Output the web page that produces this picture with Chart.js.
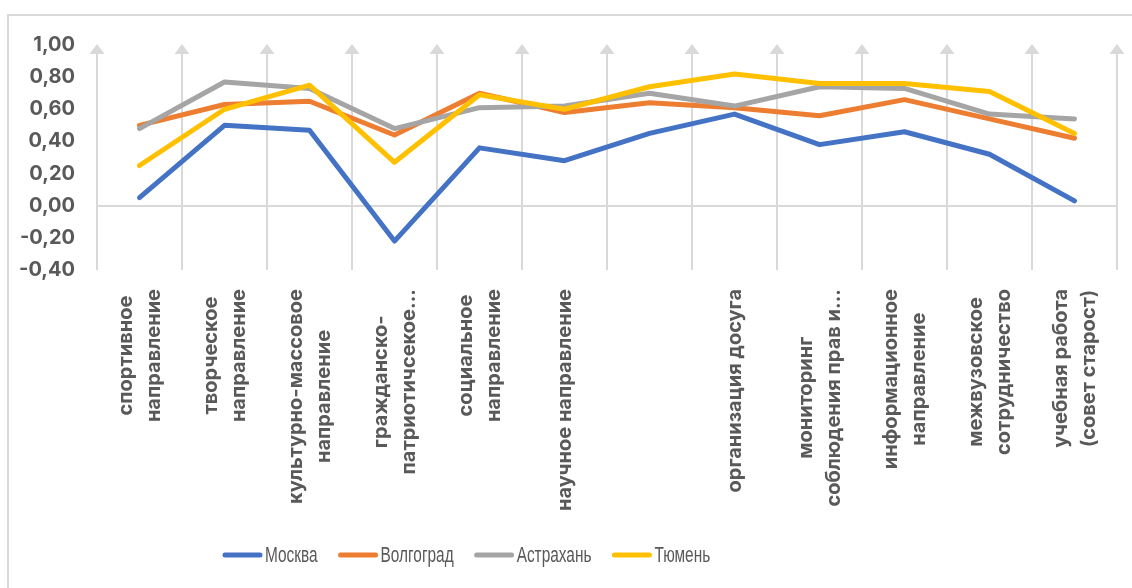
<!DOCTYPE html>
<html>
<head>
<meta charset="utf-8">
<script src="https://cdn.jsdelivr.net/npm/chart.js@4"></script>
<style>
    html, body { margin: 0; padding: 0; background: #fff; overflow: hidden; }
    #wrap { position: relative; width: 1132px; height: 588px; }
    #frame { position: absolute; left: 7px; top: 14px; width: 1200px; height: 700px; border: 2px solid #d9d9d9; box-sizing: border-box; }
    canvas { position: absolute; left: 0; top: 0; }
</style>
</head>
<body>
<div id="wrap">
    <div id="frame"></div>
    <canvas id="mainChart" width="1132" height="588"></canvas>
</div>
<script>
const categories = [
    ['спортивное', 'направление'],
    ['творческое', 'направление'],
    ['культурно-массовое', 'направление'],
    ['гражданско-', 'патриотичсекое...'],
    ['социальное', 'направление'],
    ['научное направление'],
    [''],
    ['организация досуга'],
    ['мониторинг', 'соблюдения прав и...'],
    ['информационное', 'направление'],
    ['межвузовское', 'сотрудничество'],
    ['учебная работа', '(совет старост)']
];

const moscow    = [0.05, 0.50, 0.47, -0.22, 0.36, 0.28, 0.45, 0.57, 0.38, 0.46, 0.32, 0.03];
const volgograd = [0.50, 0.63, 0.65, 0.44, 0.70, 0.58, 0.64, 0.61, 0.56, 0.66, 0.54, 0.42];
const astrakhan = [0.48, 0.77, 0.73, 0.48, 0.61, 0.62, 0.70, 0.62, 0.74, 0.73, 0.57, 0.54];
const tyumen    = [0.25, 0.60, 0.75, 0.27, 0.69, 0.60, 0.74, 0.82, 0.76, 0.76, 0.71, 0.45];

const seriesNames = ['Москва', 'Волгоград', 'Астрахань', 'Тюмень'];
const seriesColors = ['#4472C4', '#ED7D31', '#A5A5A5', '#FFC000'];

const yMin = -0.4;
const yMax = 1.0;
const yStep = 0.2;

const textColor = '#595959';
const gridColor = '#d9d9d9';
const boldFont = 'Inter, "Open Sans", "DejaVu Sans", sans-serif';

// Arrow heads on top of the vertical grid lines
const arrowPlugin = {
    id: 'arrows',
    beforeDatasetsDraw(chart) {
        const ctx = chart.ctx;
        const x = chart.scales.x;
        const top = chart.chartArea.top;
        ctx.save();
        ctx.fillStyle = gridColor;
        for (let i = 0; i <= categories.length; i++) {
            const px = x.getPixelForValue(i - 0.5);
            ctx.beginPath();
            ctx.moveTo(px, top - 1);
            ctx.lineTo(px - 7.5, top + 9);
            ctx.lineTo(px + 7.5, top + 9);
            ctx.closePath();
            ctx.fill();
        }
        ctx.restore();
    }
};

// Rotated, centre-aligned category labels
const labelPlugin = {
    id: 'xLabels',
    afterDraw(chart) {
        const ctx = chart.ctx;
        const x = chart.scales.x;
        const top = chart.chartArea.bottom + 19;
        const lineHeight = 28;
        ctx.save();
        ctx.font = 'bold 20px ' + boldFont;
        ctx.fillStyle = textColor;
        ctx.textAlign = 'center';
        ctx.textBaseline = 'middle';
        categories.forEach((lines, i) => {
            const px = x.getPixelForTick(i);
            const maxW = Math.max(...lines.map(l => ctx.measureText(l).width));
            ctx.save();
            ctx.translate(px, top);
            ctx.rotate(-Math.PI / 2);
            lines.forEach((line, k) => {
                const off = (k - (lines.length - 1) / 2) * lineHeight;
                ctx.fillText(line, -maxW / 2, off);
            });
            ctx.restore();
        });
        ctx.restore();
    }
};

// Legend drawn as in the original: short line + name (condensed text)
const legendPlugin = {
    id: 'lineLegend',
    afterDraw(chart) {
        const ctx = chart.ctx;
        const y = 555;
        const squeeze = 0.7;
        let cx = 223;
        ctx.save();
        ctx.font = '22px "Liberation Sans", Arial, sans-serif';
        ctx.textBaseline = 'middle';
        ctx.textAlign = 'left';
        ctx.lineCap = 'round';
        seriesNames.forEach((name, i) => {
            ctx.strokeStyle = seriesColors[i];
            ctx.lineWidth = 5;
            ctx.beginPath();
            ctx.moveTo(cx + 2, y);
            ctx.lineTo(cx + 37, y);
            ctx.stroke();
            ctx.fillStyle = textColor;
            ctx.save();
            ctx.translate(cx + 42, y + 1);
            ctx.scale(squeeze, 1);
            ctx.fillText(name, 0, 0);
            ctx.restore();
            cx += 42 + ctx.measureText(name).width * squeeze + 21;
        });
        ctx.restore();
    }
};

const values = [moscow, volgograd, astrakhan, tyumen];

const ctx = document.getElementById('mainChart').getContext('2d');
new Chart(ctx, {
    type: 'line',
    data: {
        labels: categories,
        datasets: values.map((v, i) => ({
            label: seriesNames[i],
            data: v,
            borderColor: seriesColors[i],
            backgroundColor: seriesColors[i],
            borderWidth: 5,
            borderCapStyle: 'round',
            borderJoinStyle: 'round',
            pointRadius: 0,
            tension: 0,
            order: values.length - 1 - i
        }))
    },
    options: {
        responsive: false,
        animation: false,
        layout: { padding: { top: 45, right: 15, bottom: 68, left: 0 } },
        scales: {
            x: {
                type: 'category',
                offset: true,
                grid: { offset: true, color: gridColor, lineWidth: 2, drawTicks: false },
                border: { display: false },
                ticks: { display: false },
                afterFit: (scale) => { scale.height = 250; }
            },
            y: {
                min: yMin,
                max: yMax,
                border: { display: false },
                grid: {
                    drawTicks: false,
                    lineWidth: 2,
                    color: (c) => Math.abs(c.tick.value) < 1e-9 ? gridColor : 'rgba(0,0,0,0)'
                },
                ticks: {
                    stepSize: yStep,
                    padding: 22,
                    color: textColor,
                    font: { family: boldFont, size: 20, weight: 'bold' },
                    callback: (v) => (Math.abs(v) < 1e-9 ? 0 : v).toFixed(2).replace('.', ',')
                },
                afterFit: (scale) => { scale.width = 97; }
            }
        },
        plugins: {
            legend: { display: false },
            tooltip: { enabled: false }
        }
    },
    plugins: [arrowPlugin, labelPlugin, legendPlugin]
});
</script>
</body>
</html>
